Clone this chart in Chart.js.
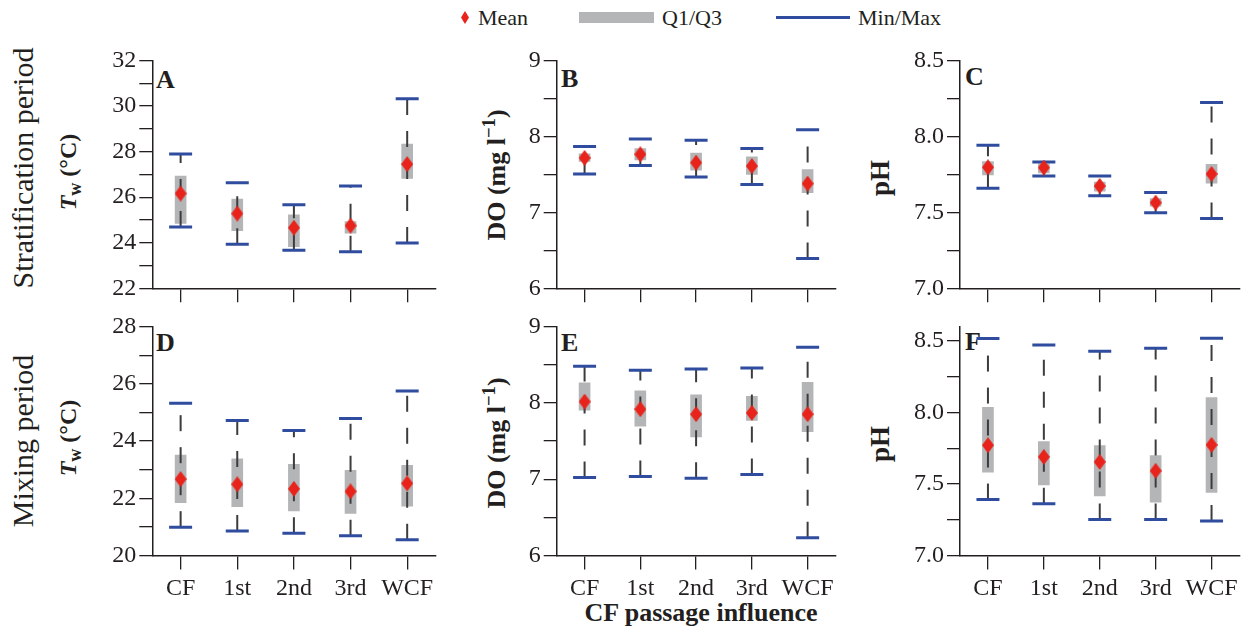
<!DOCTYPE html>
<html>
<head>
<meta charset="utf-8">
<script src="https://cdn.jsdelivr.net/npm/chart.js@4/dist/chart.umd.min.js"></script>
<style>
  html, body { margin: 0; padding: 0; background: #fff; }
  #fig { position: relative; width: 1254px; height: 637px; overflow: hidden;
         font-family: "Liberation Serif", "Times New Roman", serif; color: #231f20; }
  canvas { position: absolute; }
  .txt { position: absolute; white-space: nowrap; line-height: 1; }
  .rot { position: absolute; white-space: nowrap; line-height: 1;
         transform: translate(-50%, -50%) rotate(-90deg); }
  .bold { font-weight: bold; }
  .rot sub { font-size: 0.75em; vertical-align: -0.28em; line-height: 0; }
  .rot sup { font-size: 0.72em; vertical-align: 0.55em; line-height: 0; }
  .letter { position: absolute; font-weight: bold; font-size: 26px; line-height: 1; }
</style>
</head>
<body>
<div id="fig">
  <!-- legend -->
  <div id="lg-diamond" style="position:absolute;left:461px;top:11px;width:8px;height:13px;background:#e8231b;clip-path:polygon(50% 0,100% 50%,50% 100%,0 50%);"></div>
  <div class="txt" style="left:478px;top:7px;font-size:22px;">Mean</div>
  <div style="position:absolute;left:579px;top:12px;width:75px;height:11px;background:#b4b5b7;"></div>
  <div class="txt" style="left:662px;top:7px;font-size:22px;">Q1/Q3</div>
  <div style="position:absolute;left:776px;top:16px;width:74px;height:2.5px;background:#2f4c9e;"></div>
  <div class="txt" style="left:858px;top:7px;font-size:22px;">Min/Max</div>

  <!-- row labels -->
  <div class="rot" style="left:23px;top:168px;font-size:30px;">Stratification period</div>
  <div class="rot" style="left:23px;top:441px;font-size:30px;">Mixing period</div>

  <!-- y-axis titles -->
  <div class="rot bold" style="left:68px;top:172px;font-size:24px;"><i>T</i><sub>w</sub> (°C)</div>
  <div class="rot bold" style="left:68px;top:438px;font-size:24px;"><i>T</i><sub>w</sub> (°C)</div>
  <div class="rot bold" style="left:497px;top:175px;font-size:26px;">DO (mg l<sup>−1</sup>)</div>
  <div class="rot bold" style="left:497px;top:443px;font-size:26px;">DO (mg l<sup>−1</sup>)</div>
  <div class="rot bold" style="left:880px;top:178px;font-size:27px;">pH</div>
  <div class="rot bold" style="left:880px;top:444px;font-size:27px;">pH</div>

  <!-- panel letters -->
  <div class="letter" style="left:156px;top:67px;">A</div>
  <div class="letter" style="left:561px;top:66px;">B</div>
  <div class="letter" style="left:965px;top:64px;">C</div>
  <div class="letter" style="left:156px;top:330px;">D</div>
  <div class="letter" style="left:561px;top:330px;">E</div>
  <div class="letter" style="left:965px;top:329px;">F</div>

  <!-- x-axis title -->
  <div class="txt bold" style="left:701px;top:600px;font-size:26px;transform:translateX(-50%);">CF passage influence</div>
</div>

<script>
// ---- categories -------------------------------------------------------
const categories = ['CF', '1st', '2nd', '3rd', 'WCF'];

// ---- A: stratification period, water temperature (°C) -----------------
const tempStratMean = [26.16, 25.28, 24.66, 24.75, 27.45];
const tempStratQ1   = [24.85, 24.53, 23.83, 24.42, 26.82];
const tempStratQ3   = [26.93, 25.92, 25.22, 24.93, 28.33];
const tempStratMin  = [24.69, 23.93, 23.67, 23.60, 23.99];
const tempStratMax  = [27.90, 26.63, 25.67, 26.49, 30.32];

// ---- B: stratification period, dissolved oxygen (mg/l) ----------------
const doStratMean = [7.717, 7.765, 7.655, 7.610, 7.379];
const doStratQ1   = [7.670, 7.690, 7.555, 7.500, 7.261];
const doStratQ3   = [7.770, 7.840, 7.780, 7.730, 7.563];
const doStratMin  = [7.506, 7.616, 7.467, 7.366, 6.394];
const doStratMax  = [7.866, 7.966, 7.950, 7.840, 8.089];

// ---- C: stratification period, pH -------------------------------------
const phStratMean = [7.797, 7.795, 7.674, 7.564, 7.753];
const phStratQ1   = [7.747, 7.760, 7.640, 7.540, 7.692];
const phStratQ3   = [7.835, 7.820, 7.700, 7.590, 7.817];
const phStratMin  = [7.659, 7.740, 7.610, 7.498, 7.459];
const phStratMax  = [7.942, 7.832, 7.740, 7.630, 8.223];

// ---- D: mixing period, water temperature (°C) -------------------------
const tempMixMean = [22.67, 22.49, 22.33, 22.24, 22.52];
const tempMixQ1   = [21.85, 21.71, 21.56, 21.47, 21.72];
const tempMixQ3   = [23.51, 23.38, 23.19, 22.98, 23.15];
const tempMixMin  = [20.99, 20.86, 20.78, 20.69, 20.55];
const tempMixMax  = [25.32, 24.72, 24.37, 24.79, 25.75];

// ---- E: mixing period, dissolved oxygen (mg/l) ------------------------
const doMixMean = [8.017, 7.917, 7.852, 7.869, 7.852];
const doMixQ1   = [7.904, 7.694, 7.555, 7.769, 7.624];
const doMixQ3   = [8.262, 8.157, 8.105, 8.087, 8.271];
const doMixMin  = [7.022, 7.035, 7.013, 7.061, 6.231];
const doMixMax  = [8.480, 8.428, 8.445, 8.459, 8.729];

// ---- F: mixing period, pH ---------------------------------------------
const phMixMean = [7.771, 7.689, 7.654, 7.592, 7.773];
const phMixQ1   = [7.582, 7.494, 7.417, 7.373, 7.441];
const phMixQ3   = [8.036, 7.797, 7.769, 7.699, 8.103];
const phMixMin  = [7.391, 7.361, 7.251, 7.251, 7.242];
const phMixMax  = [8.516, 8.472, 8.428, 8.449, 8.519];

// ---- y-axis ranges and tick steps -------------------------------------
const tempStratRange = [22, 32, 1];
const doRange        = [6, 9, 0.5];
const phStratRange   = [7, 8.5, 0.25];
const tempMixRange   = [20, 28, 1];
const phMixRange     = [7, 8.6, 0.25];

// ---- drawing style ------------------------------------------------------
const AXIS = '#231f20';
const BLUE = '#2f4c9e';
const GRAY = '#b4b5b7';
const RED = '#e8231b';
const WHISKER = '#3c3c3c';

// Mean marker: a tall red diamond
const diamond = document.createElement('canvas');
diamond.width = 12; diamond.height = 16;
(function () {
  const c = diamond.getContext('2d');
  c.fillStyle = RED;
  c.beginPath();
  c.moveTo(6, 0); c.lineTo(12, 8); c.lineTo(6, 16); c.lineTo(0, 8);
  c.closePath(); c.fill();
})();

const intLabel = v => (Math.abs(v - Math.round(v)) < 1e-9 && Math.round(v) % 2 === 0) ? String(Math.round(v)) : '';
const halfUnitLabel = v => (Math.abs(v - Math.round(v)) < 1e-9) ? String(Math.round(v)) : '';
const pointFiveLabel = v => (Math.abs(v * 2 - Math.round(v * 2)) < 1e-9) ? v.toFixed(1) : '';

// Panel frames: canvas box and plot area, in page pixels
const cols = [
  { canvasLeft: 90,  canvasWidth: 360, plotLeft: 152.3, plotRight: 441.7 },
  { canvasLeft: 500, canvasWidth: 350, plotLeft: 556.7, plotRight: 841.7 },
  { canvasLeft: 905, canvasWidth: 349, plotLeft: 960.0, plotRight: 1249.3 }
];
const rows = [
  { canvasTop: 45,  canvasHeight: 265, plotTop: 60.5,  plotBottom: 288.3, labels: false },
  { canvasTop: 312, canvasHeight: 300, plotTop: 326.6, plotBottom: 555.5, labels: true }
];

const panels = [
  { row: 0, col: 0, mean: tempStratMean, q1: tempStratQ1, q3: tempStratQ3, min: tempStratMin, max: tempStratMax, range: tempStratRange, label: intLabel },
  { row: 0, col: 1, mean: doStratMean, q1: doStratQ1, q3: doStratQ3, min: doStratMin, max: doStratMax, range: doRange, label: halfUnitLabel },
  { row: 0, col: 2, mean: phStratMean, q1: phStratQ1, q3: phStratQ3, min: phStratMin, max: phStratMax, range: phStratRange, label: pointFiveLabel },
  { row: 1, col: 0, mean: tempMixMean, q1: tempMixQ1, q3: tempMixQ3, min: tempMixMin, max: tempMixMax, range: tempMixRange, label: intLabel },
  { row: 1, col: 1, mean: doMixMean, q1: doMixQ1, q3: doMixQ3, min: doMixMin, max: doMixMax, range: doRange, label: halfUnitLabel },
  { row: 1, col: 2, mean: phMixMean, q1: phMixQ1, q3: phMixQ3, min: phMixMin, max: phMixMax, range: phMixRange, label: pointFiveLabel }
];

const fig = document.getElementById('fig');

panels.forEach(p => {
  const col = cols[p.col], row = rows[p.row];
  const cv = document.createElement('canvas');
  cv.width = col.canvasWidth; cv.height = row.canvasHeight;
  cv.style.left = col.canvasLeft + 'px';
  cv.style.top = row.canvasTop + 'px';
  cv.style.width = col.canvasWidth + 'px';
  cv.style.height = row.canvasHeight + 'px';
  fig.appendChild(cv);

  const yAxisWidth = col.plotLeft - col.canvasLeft;
  const padRight = col.canvasLeft + col.canvasWidth - col.plotRight;
  const padTop = row.plotTop - row.canvasTop;
  const xAxisHeight = row.canvasTop + row.canvasHeight - row.plotBottom;

  // dashed min-to-max whiskers, one per category, drawn upward from the minimum
  const whiskers = categories.map((c, i) => ({
    type: 'line',
    data: [{ x: c, y: p.min[i] }, { x: c, y: p.max[i] }],
    borderColor: WHISKER,
    borderWidth: 2,
    borderDash: [16, 16],
    pointRadius: 0,
    order: 2
  }));

  new Chart(cv, {
    type: 'bar',
    data: {
      labels: categories,
      datasets: [
        { type: 'line', label: 'Mean', data: p.mean, showLine: false,
          pointStyle: diamond, pointRadius: 8, order: 0 },
        { type: 'line', label: 'Max', data: p.max, showLine: false,
          pointStyle: 'line', pointRadius: 11.5, pointBorderWidth: 3,
          pointBorderColor: BLUE, borderColor: BLUE, order: 1 },
        { type: 'line', label: 'Min', data: p.min, showLine: false,
          pointStyle: 'line', pointRadius: 11.5, pointBorderWidth: 3,
          pointBorderColor: BLUE, borderColor: BLUE, order: 1 },
        ...whiskers,
        { type: 'bar', label: 'Q1/Q3', data: p.q1.map((v, i) => [v, p.q3[i]]),
          backgroundColor: GRAY, barThickness: 11, order: 3 }
      ]
    },
    options: {
      responsive: false,
      animation: false,
      events: [],
      layout: { padding: { top: padTop, right: padRight, left: 0, bottom: 0 } },
      plugins: { legend: { display: false }, tooltip: { enabled: false } },
      scales: {
        x: {
          type: 'category',
          offset: true,
          grid: { offset: false, drawOnChartArea: false, drawTicks: true,
                  tickLength: 14, color: AXIS, lineWidth: 1.3 },
          border: { color: AXIS, width: 1.5 },
          ticks: {
            autoSkip: false, maxRotation: 0, padding: 5, color: AXIS,
            font: { family: 'Liberation Serif', size: 24 },
            callback: (v, i) => row.labels ? categories[i] : ''
          },
          afterFit: s => { s.height = xAxisHeight; s.paddingLeft = 0; s.paddingRight = 0; }
        },
        y: {
          type: 'linear',
          min: p.range[0], max: p.range[1],
          grid: { drawOnChartArea: false, drawTicks: true, tickLength: 13,
                  color: AXIS, lineWidth: 1.3 },
          border: { color: AXIS, width: 1.5 },
          ticks: {
            stepSize: p.range[2], includeBounds: false, autoSkip: false,
            maxTicksLimit: 30, padding: 3, color: AXIS,
            font: { family: 'Liberation Serif', size: 24 },
            callback: v => p.label(v)
          },
          afterFit: s => { s.width = yAxisWidth; s.paddingTop = 0; s.paddingBottom = 0; }
        }
      }
    }
  });
});
</script>
</body>
</html>
